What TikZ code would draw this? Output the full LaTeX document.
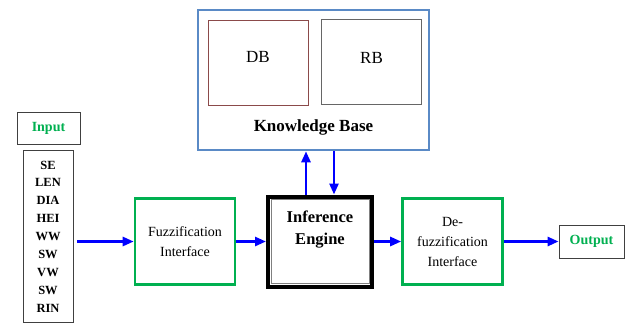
\documentclass[tikz,border=0pt]{standalone}
\usepackage{fontspec}
\setmainfont{Liberation Serif}
\usepackage{tikz}
\usetikzlibrary{arrows.meta,positioning,calc}
\usepackage{xcolor}
\definecolor{leaf}{HTML}{00B050}
\definecolor{steel}{HTML}{5A8AC6}
\definecolor{brick}{HTML}{8B4A4A}
\definecolor{ink}{HTML}{404040}
\tikzset{
  iobox/.style={draw=ink,fill=white,text=leaf,line width=0.8pt,
    font=\fontsize{14}{16}\selectfont\bfseries,inner sep=0pt},
  gbox/.style={draw=leaf,fill=white,line width=2.6pt,align=center,
    minimum width=100pt,minimum height=86pt,inner sep=0pt,
    font=\fontsize{14}{20}\selectfont},
  kbbox/.style={draw=steel,line width=2.6pt,inner sep=0pt},
  subbox/.style={draw=#1,line width=0.8pt,minimum width=100pt,minimum height=85pt,inner sep=0pt},
  btxt/.style={font=\fontsize{17}{19}\selectfont\bfseries,inner sep=0pt},
  flow/.style={-{Triangle[length=11pt,width=9pt]},line width=2.6pt,color=blue},
}
\begin{document}
\begin{tikzpicture}[x=1pt,y=-1pt]
  \useasboundingbox (0,0) rectangle (629,325);
  % knowledge base
  \node[kbbox,minimum width=231pt,minimum height=140pt] (kb) at (313.5,80){};
  \node[subbox=brick] (db) at (258,62.5){};
  \node[subbox=ink!80] (rb) at (371.5,61.5){};
  \node[font=\fontsize{17}{19}\selectfont] (dbt) at (258,57){DB};
  \node[font=\fontsize{17}{19}\selectfont] (rbt) at (371.5,58){RB};
  \node[btxt] (kbt) at (313.5,127){Knowledge Base};
  % inputs
  \node[iobox,minimum width=63pt,minimum height=32pt] (inp) at (48.5,128){Input};
  \node[draw=ink,line width=0.8pt,minimum width=50pt,minimum height=172pt,inner sep=0pt,
    align=center,font=\fontsize{12.5}{17.9}\selectfont\bfseries] (vars) at (48,236.5)
    {SE\\LEN\\DIA\\HEI\\WW\\SW\\VW\\SW\\RIN};
  % main chain
  \node[gbox] (fz) at (185,241.5){Fuzzification\\Interface};
  \node[draw=black,line width=4pt,minimum width=104pt,minimum height=90pt,inner sep=0pt] (ie) at (320,241.5){};
  \draw[gray,line width=0.8pt] ([xshift=5pt,yshift=-5pt]ie.north west) rectangle ([xshift=-5pt,yshift=5pt]ie.south east);
  \node[btxt,align=center,font=\fontsize{16.5}{22}\selectfont\bfseries] (iet) at (320,230){Inference\\Engine};
  \node[gbox] (dfz) at (452.5,241.5){De-\\fuzzification\\Interface};
  \node[iobox,minimum width=65pt,minimum height=33pt] (out) at (591.5,241.5){Output};
  % connectors
  \draw[flow,shorten <=4pt] (vars.east |- fz) -- (fz);
  \draw[flow] (fz) -- (ie);
  \draw[flow] (ie) -- (dfz);
  \draw[flow] (dfz) -- (out);
  \draw[flow] ([xshift=-14pt]ie.north) -- ([xshift=-14pt]ie.north |- kb.south);
  \draw[flow] ([xshift=14pt]ie.north |- kb.south) -- ([xshift=14pt]ie.north);
\end{tikzpicture}
\end{document}
